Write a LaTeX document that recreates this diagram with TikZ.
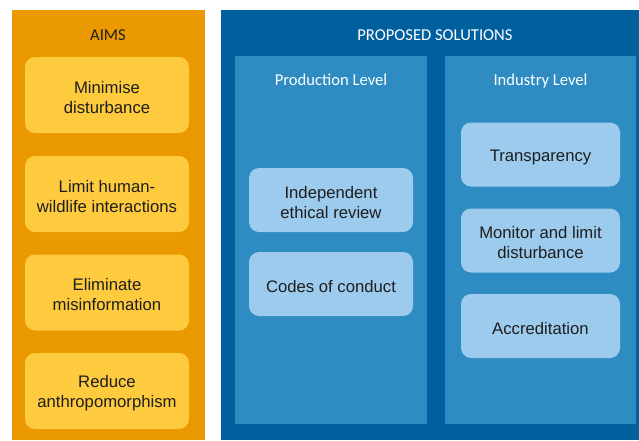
\documentclass[tikz,border=0pt]{standalone}
\usepackage{fontspec}
\setmainfont{Liberation Sans}
\newfontfamily\titlefont{Carlito}
\definecolor{aimorange}{HTML}{EA9A00}
\definecolor{aimyellow}{HTML}{FECB3E}
\definecolor{soldark}{HTML}{00609E}
\definecolor{solmid}{HTML}{2E8CC2}
\definecolor{sollight}{HTML}{9DCBEE}
\definecolor{boxtext}{HTML}{1E1E1E}
\newcommand\mytopstrut{\rule{0pt}{17pt}}
\tikzset{
  boxtxt/.style={font=\fontsize{16.7}{20}\selectfont, text=boxtext, align=center},
  aimbox/.style={boxtxt, fill=aimyellow, rounded corners=10pt, minimum width=164pt, minimum height=76pt, inner sep=0pt},
  prodbox/.style={boxtxt, fill=sollight, rounded corners=10pt, minimum width=164pt, minimum height=64pt, inner sep=0pt},
  indbox/.style={boxtxt, fill=sollight, rounded corners=10pt, minimum width=159pt, minimum height=64pt, inner sep=0pt},
  paneltitle/.style={font=\titlefont\fontsize{16.6}{20}\selectfont, inner sep=0pt},
}
\begin{document}
\begin{tikzpicture}[x=1pt,y=-1pt]
\useasboundingbox (0,0) rectangle (639,440);
\fill[white] (0,0) rectangle (639,440);
% panels
\fill[aimorange] (11.5,9.5) rectangle (204.5,440);
\fill[soldark] (221,9.5) rectangle (639,440);
\fill[solmid] (235,56) rectangle (426.5,424);
\fill[solmid] (445,56) rectangle (636,424);
% titles
\node[paneltitle, text=boxtext, anchor=base] (aims) at (108,40.5) {AIMS};
\node[paneltitle, text=white, anchor=base] (sol) at (435,40.5) {PROPOSED SOLUTIONS};
\node[paneltitle, text=white, anchor=base] (prod) at (331,85) {Production Level};
\node[paneltitle, text=white, anchor=base] (ind) at (540.5,85) {Industry Level};
% aims boxes
\node[aimbox] (a1) at (107,95) {\mytopstrut Minimise\\disturbance};
\node[aimbox] (a2) at (107,194) {\mytopstrut Limit human-\\wildlife interactions};
\node[aimbox] (a3) at (107,292.5) {\mytopstrut Eliminate\\misinformation};
\node[aimbox] (a4) at (107,391) {\mytopstrut Reduce\\anthropomorphism};
% production boxes
\node[prodbox] (p1) at (331,200) {\mytopstrut Independent\\ethical review};
\node[prodbox] (p2) at (331,284) {\mytopstrut Codes of conduct};
% industry boxes
\node[indbox] (i1) at (540.5,154.5) {\mytopstrut Transparency};
\node[indbox] (i2) at (540.5,240.5) {\mytopstrut Monitor and limit\\disturbance};
\node[indbox] (i3) at (540.5,326) {\mytopstrut Accreditation};
\end{tikzpicture}
\end{document}
